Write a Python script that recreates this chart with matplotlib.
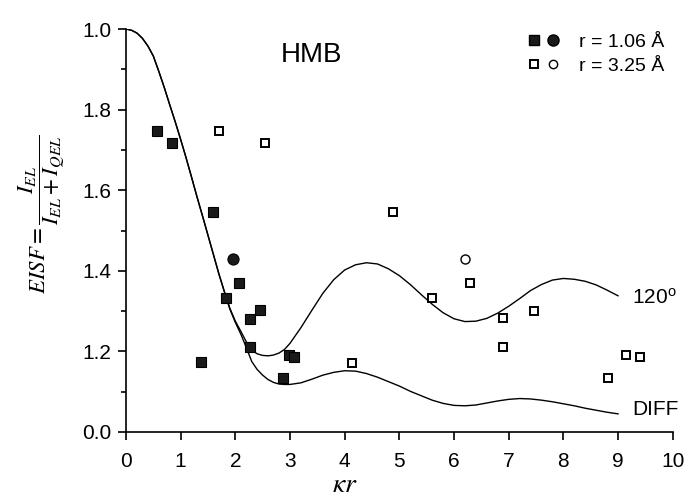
import matplotlib
matplotlib.use("Agg")
import matplotlib.pyplot as plt
from matplotlib.lines import Line2D
from matplotlib.legend_handler import HandlerTuple

plt.rcParams["font.family"] = ["Liberation Sans", "DejaVu Sans"]
plt.rcParams["mathtext.fontset"] = "stix"

# -----------------------------
# data
# -----------------------------

# r = 1.06 A (filled)
small_sq_x = [0.57, 0.84, 1.37, 1.59, 1.83, 2.07, 2.26, 2.26, 2.45, 2.88, 2.99, 3.07]
small_sq_y = [0.747, 0.718, 0.174, 0.546, 0.332, 0.370, 0.281, 0.211, 0.303, 0.135, 0.190, 0.186]
small_circ_x = [1.96]
small_circ_y = [0.430]

# r = 3.25 A (open)
large_sq_x = [1.70, 2.54, 4.14, 4.89, 5.60, 6.29, 6.90, 6.90, 7.46, 8.82, 9.14, 9.40]
large_sq_y = [0.746, 0.717, 0.172, 0.546, 0.332, 0.369, 0.282, 0.210, 0.301, 0.133, 0.190, 0.186]
large_circ_x = [6.21]
large_circ_y = [0.430]

# model curves
jump120_x = [0.0, 0.1, 0.2, 0.3, 0.4, 0.5, 0.6, 0.7, 0.8, 0.9, 1.0, 1.1, 1.2, 1.3, 1.4,
             1.5, 1.6, 1.7, 1.8, 1.9, 2.0, 2.1, 2.2, 2.3, 2.4, 2.5, 2.6, 2.7, 2.8, 2.9,
             3.0, 3.2, 3.4, 3.6, 3.8, 4.0, 4.2, 4.4, 4.6, 4.8, 5.0, 5.2, 5.4, 5.6, 5.8,
             6.0, 6.2, 6.4, 6.6, 6.8, 7.0, 7.2, 7.4, 7.6, 7.8, 8.0, 8.2, 8.4, 8.6, 8.8, 9.0]
jump120_y = [1.000, 0.997, 0.990, 0.977, 0.958, 0.933, 0.895, 0.855, 0.812, 0.770, 0.726, 0.680,
             0.632, 0.583, 0.536, 0.488, 0.440, 0.392, 0.348, 0.307, 0.275, 0.250, 0.224, 0.203,
             0.194, 0.190, 0.189, 0.191, 0.196, 0.205, 0.220, 0.259, 0.302, 0.344, 0.378, 0.402,
             0.415, 0.420, 0.417, 0.405, 0.388, 0.366, 0.341, 0.317, 0.296, 0.281, 0.274, 0.275,
             0.282, 0.295, 0.312, 0.331, 0.351, 0.366, 0.377, 0.381, 0.379, 0.374, 0.365, 0.352,
             0.338]

diff_x = [0.0, 0.1, 0.2, 0.3, 0.4, 0.5, 0.6, 0.7, 0.8, 0.9, 1.0, 1.1, 1.2, 1.3, 1.4,
          1.5, 1.6, 1.7, 1.8, 1.9, 2.0, 2.1, 2.2, 2.3, 2.4, 2.5, 2.6, 2.7, 2.8, 2.9,
          3.0, 3.2, 3.4, 3.6, 3.8, 4.0, 4.2, 4.4, 4.6, 4.8, 5.0, 5.2, 5.4, 5.6, 5.8,
          6.0, 6.2, 6.4, 6.6, 6.8, 7.0, 7.2, 7.4, 7.6, 7.8, 8.0, 8.2, 8.4, 8.6, 8.8, 9.0]
diff_y = [1.000, 0.997, 0.990, 0.977, 0.958, 0.933, 0.895, 0.855, 0.812, 0.770, 0.726, 0.680,
          0.632, 0.583, 0.536, 0.488, 0.440, 0.392, 0.348, 0.305, 0.272, 0.243, 0.210, 0.175,
          0.155, 0.141, 0.130, 0.123, 0.119, 0.118, 0.118, 0.122, 0.131, 0.141, 0.148, 0.152,
          0.151, 0.145, 0.136, 0.125, 0.114, 0.101, 0.090, 0.079, 0.071, 0.066, 0.065, 0.067,
          0.072, 0.077, 0.081, 0.083, 0.082, 0.079, 0.075, 0.070, 0.065, 0.059, 0.054, 0.049,
          0.045]

y_ticks = [0.0, 0.2, 0.4, 0.6, 0.8, 1.0]
y_tick_labels = ["0.0", "1.2", "1.4", "1.6", "1.8", "1.0"]
x_ticks = list(range(0, 11))

# -----------------------------
# plot
# -----------------------------

fig = plt.figure(figsize=(6.93, 4.97), dpi=100)
ax = fig.add_axes([0.1818, 0.1308, 0.7889, 0.8108])

ax.plot(jump120_x, jump120_y, color="black", lw=1.0)
ax.plot(diff_x, diff_y, color="black", lw=1.0)

ax.plot(small_sq_x, small_sq_y, ls="none", marker="s", ms=7.2,
        mfc="#1a1a1a", mec="black", mew=0.8)
ax.plot(small_circ_x, small_circ_y, ls="none", marker="o", ms=8,
        mfc="#1a1a1a", mec="black", mew=0.8)
ax.plot(large_sq_x, large_sq_y, ls="none", marker="s", ms=6,
        mfc="white", mec="black", mew=1.4)
ax.plot(large_circ_x, large_circ_y, ls="none", marker="o", ms=6.5,
        mfc="white", mec="black", mew=1.0)

ax.text(9.26, 0.333, r"120$^{\mathregular{o}}$", fontsize=15, va="center", ha="left")
ax.text(9.26, 0.055, "DIFF", fontsize=15, va="center", ha="left")
ax.text(3.40, 0.936, "HMB", fontsize=20, va="center", ha="center")

# legend: (square, circle) pairs
h_small = (Line2D([], [], ls="none", marker="s", ms=7, mfc="#1a1a1a", mec="black"),
           Line2D([], [], ls="none", marker="o", ms=8, mfc="#1a1a1a", mec="black"))
h_large = (Line2D([], [], ls="none", marker="s", ms=5.5, mfc="white", mec="black", mew=1.4),
           Line2D([], [], ls="none", marker="o", ms=6, mfc="white", mec="black", mew=1.0))
ax.legend([h_small, h_large], ["r = 1.06 Å", "r = 3.25 Å"],
          handler_map={tuple: HandlerTuple(ndivide=None, pad=0.4)},
          loc="upper left", bbox_to_anchor=(0.737, 0.99), frameon=False,
          fontsize=14, handlelength=1.5, handletextpad=1.1, borderpad=0,
          labelspacing=0.35, borderaxespad=0)

ax.set_xlim(0, 10)
ax.set_ylim(0, 1.0)
ax.set_xticks(x_ticks)
ax.set_yticks(y_ticks)
ax.set_yticklabels(y_tick_labels)
ax.set_yticks([0.1, 0.3, 0.5, 0.7, 0.9], minor=True)

for side in ["top", "right"]:
    ax.spines[side].set_visible(False)
for side in ["left", "bottom"]:
    ax.spines[side].set_linewidth(1.2)

ax.tick_params(axis="both", which="major", direction="out", length=5.5, width=1.2,
               labelsize=15, pad=5)
ax.tick_params(axis="y", which="minor", direction="out", length=3.5, width=1.2)
ax.tick_params(axis="x", pad=9)

ax.set_xlabel(r"$\kappa r$", fontsize=20)
ax.xaxis.set_label_coords(0.40, -0.10)
ax.set_ylabel(r"$EISF = \dfrac{I_{EL}}{I_{EL} + I_{QEL}}$", fontsize=16.5)
ax.yaxis.set_label_coords(-0.108, 0.54)

fig.savefig("out.png", dpi=100)
